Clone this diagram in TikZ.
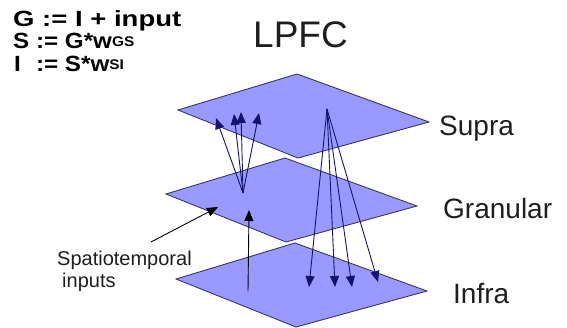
\documentclass[tikz,border=0pt]{standalone}
\usepackage{fontspec}
\setmainfont{Liberation Sans}
\newfontfamily\eqfont[FakeStretch=1.1]{Liberation Sans}
\newfontfamily\eqwide[FakeStretch=1.25]{Liberation Sans}
\usepackage{tikz}
\usetikzlibrary{arrows.meta}
\definecolor{layerblue}{RGB}{153,153,255}
\definecolor{layeredge}{RGB}{55,55,95}
\definecolor{fibre}{RGB}{20,20,110}
\definecolor{ink}{RGB}{30,30,30}
\newcommand{\wexp}[1]{\raisebox{2pt}{\fontsize{14}{14}\selectfont #1}}

\begin{document}
\begin{tikzpicture}[x=1pt,y=-1pt,>={Triangle[length=11pt,width=9pt]}]
\tikzstyle{layer}=[fill=layerblue,draw=layeredge,line width=0.9pt]
\tikzstyle{layername}=[anchor=base west,inner sep=0pt,text=ink,font=\fontsize{28}{32}\selectfont]
\tikzstyle{note}=[anchor=base west,inner sep=0pt,text=ink,font=\fontsize{20}{23}\selectfont]
\tikzstyle{eq}=[anchor=base west,inner sep=0pt,text=black,font=\eqfont\bfseries\fontsize{22}{26}\selectfont]
\tikzstyle{fibre}=[->,draw=fibre,line width=0.9pt]
\tikzstyle{feed}=[->,draw=black,line width=0.9pt]
\useasboundingbox (0,0) rectangle (567,327);

\foreach \px/\py in {297/74,285/158,295/243}
  \draw[layer] (\px,\py) -- ++(-119,36) -- ++(120,48) -- ++(131,-36) -- cycle;

\node[eq,font=\eqwide\bfseries\fontsize{22}{26}\selectfont] (G) at (13,26) {G := I + input};
\node[eq] (S) at (13,48) {S := G*w\wexp{GS}};
\node[eq] (I) at (13,71) {\rlap{\kern1pt I}\phantom{S} := S*w\wexp{SI}};
\node[layername,font=\fontsize{37}{40}\selectfont] (LPFC) at (253,47) {LPFC};
\node[layername] (SUPRA) at (439,135) {Supra};
\node[layername] (GRAN) at (443,218) {Granular};
\node[layername] (INFRA) at (453,303) {Infra};
\node[note] (SPT) at (57,265) {Spatiotemporal};
\node[note] (INP) at (62,287) {inputs};

\coordinate (gsrc) at (243,193);
\coordinate (ssrc) at (327,109);
\coordinate (isrc) at (248,291);
\coordinate (gtip) at (249,210);
\coordinate (intail) at (151,242);
\coordinate (intip) at (218,207);
\foreach \n/\x/\y in {1/216/118,2/234/114,3/241/112,4/259/113}
  \coordinate (up\n) at (\x,\y);
\foreach \n/\x/\y in {1/309/287,2/335/287,3/352/287,4/378/282}
  \coordinate (dn\n) at (\x,\y);

\foreach \n in {1,...,4} \draw[fibre] (gsrc) -- (up\n);
\foreach \n in {1,...,4} \draw[fibre] (ssrc) -- (dn\n);
\draw[feed] (isrc) -- (gtip);
\draw[feed] (intail) -- (intip);
\end{tikzpicture}
\end{document}
